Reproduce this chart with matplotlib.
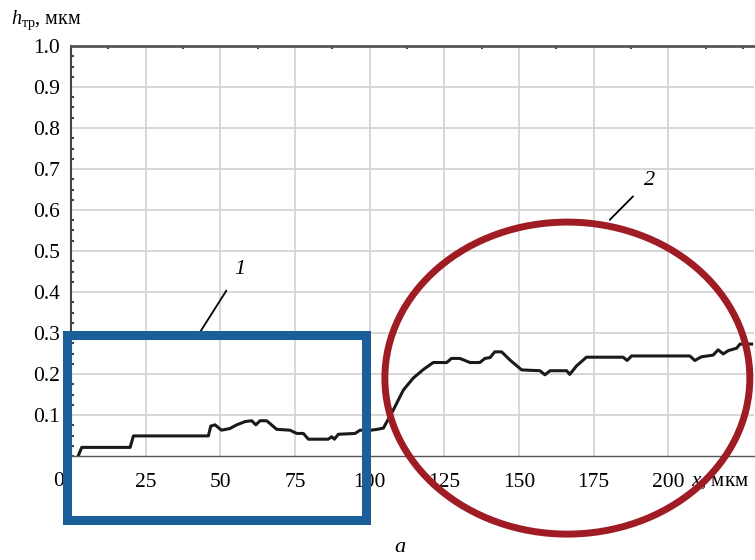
import numpy as np
import matplotlib.pyplot as plt
from matplotlib.patches import Rectangle, Ellipse

plt.rcParams['font.family'] = ['Liberation Serif', 'DejaVu Serif']
plt.rcParams['mathtext.fontset'] = 'custom'
plt.rcParams['mathtext.rm'] = 'Liberation Serif'
plt.rcParams['mathtext.it'] = 'Liberation Serif:italic'

# profile: x, мкм -> h_тр, мкм
x = [2.4, 3.6, 19.8, 20.9, 46.0, 46.8, 48.2, 50.4, 53.2, 55.5, 58.3, 60.5, 61.9,
     63.3, 65.5, 68.9, 73.3, 75.6, 77.8, 79.5, 86.1, 87.3, 88.2, 89.5, 95.1,
     96.8, 100.5, 102.5, 104.6, 107.9, 111.3, 114.6, 118.0, 121.3, 125.8, 127.4,
     130.2, 133.6, 136.9, 138.6, 140.3, 141.9, 144.2, 147.0, 150.9, 157.0, 158.7,
     160.4, 166.0, 167.0, 169.3, 172.6, 184.9, 186.2, 187.7, 207.2, 208.9, 211.1,
     215.0, 216.7, 218.4, 220.1, 222.9, 224.0, 227.9]
h = [0.0, 0.021, 0.021, 0.049, 0.049, 0.073, 0.076, 0.063, 0.067, 0.076, 0.084,
     0.086, 0.076, 0.086, 0.086, 0.065, 0.063, 0.055, 0.055, 0.041, 0.041, 0.047,
     0.041, 0.053, 0.055, 0.063, 0.063, 0.065, 0.068, 0.112, 0.161, 0.190, 0.211,
     0.228, 0.228, 0.238, 0.238, 0.228, 0.228, 0.238, 0.240, 0.254, 0.254, 0.234,
     0.210, 0.208, 0.198, 0.208, 0.208, 0.199, 0.220, 0.241, 0.241, 0.233, 0.244,
     0.244, 0.233, 0.242, 0.246, 0.259, 0.249, 0.257, 0.263, 0.273, 0.273]

xticks = [25, 50, 75, 100, 125, 150, 175, 200]
yticks = [0.1, 0.2, 0.3, 0.4, 0.5, 0.6, 0.7, 0.8, 0.9, 1.0]

fig = plt.figure(figsize=(7.55, 5.6), dpi=100)
ax = fig.add_axes([71 / 755, 104 / 560, 683 / 755, 410 / 560])
ax.set_xlim(0, 228.7)
ax.set_ylim(0, 1.0)

# grid
ax.set_xticks(np.arange(25, 226, 25), minor=False)
ax.set_yticks(yticks)
ax.grid(True, color='#d4d4d4', lw=1.3)
ax.set_axisbelow(True)

ax.set_xticks(xticks)
ax.set_xticklabels([str(t) for t in xticks], fontsize=15.5)
ax.set_yticklabels([f'{t:.1f}' for t in yticks], fontsize=15.5)
ax.tick_params(axis='x', length=0, pad=12)
ax.tick_params(axis='y', length=0, pad=8)
ax.set_xticks(np.arange(0, 229, 12.5), minor=True)
ax.set_yticks(np.arange(0, 1.0, 0.025), minor=True)
ax.tick_params(which='minor', length=2, width=1.5, color='#444444',
               top=True, bottom=False, direction='in')

ax.spines['right'].set_visible(False)
ax.spines['top'].set_color('#555555')
ax.spines['top'].set_linewidth(2)
ax.spines['left'].set_color('#444444')
ax.spines['left'].set_linewidth(1.5)
ax.spines['bottom'].set_color('#555555')
ax.spines['bottom'].set_linewidth(1)

ax.plot(x, h, color='#1a1a1a', lw=2.2, solid_joinstyle='round')

ax.text(-2.5, -0.063, '0', fontsize=15.5, ha='right', va='center')
ax.text(227, -0.063, '$x$, мкм', fontsize=15, ha='right', va='center')
fig.text(11 / 755, 1 - 20 / 560, r'$h_{\mathrm{тр}}$, мкм', fontsize=14.5,
         ha='left', va='center')
fig.text(400 / 755, 1 - 547 / 560, 'а', fontsize=16, style='italic',
         ha='center', va='center')

# highlighted regions
ax.add_patch(Rectangle((-1.2, -0.156), 100.0, 0.452, fill=False,
                       ec='#1b5e99', lw=6.5, clip_on=False, zorder=5))
ax.add_patch(Ellipse((166.2, 0.19), 122.2, 0.761, fill=False,
                     ec='#a01c24', lw=5, clip_on=False, zorder=5))

ax.annotate('1', xy=(43.2, 0.302), xytext=(56.6, 0.456), fontsize=16,
            style='italic', ha='center', va='center',
            arrowprops=dict(arrowstyle='-', color='black', lw=1.3,
                            shrinkA=8, shrinkB=0))
ax.annotate('2', xy=(180.4, 0.576), xytext=(193.6, 0.673), fontsize=16,
            style='italic', ha='center', va='center',
            arrowprops=dict(arrowstyle='-', color='black', lw=1.3,
                            shrinkA=8, shrinkB=0))

plt.savefig('out.png', dpi=100)
